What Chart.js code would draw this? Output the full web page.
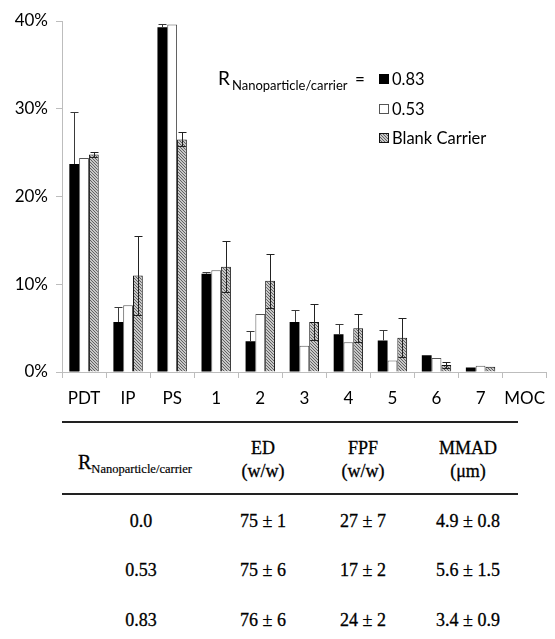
<!DOCTYPE html>
<html>
<head>
<meta charset="utf-8">
<script src="https://cdn.jsdelivr.net/npm/chart.js@4/dist/chart.umd.min.js"></script>
<style>
  html, body { margin: 0; padding: 0; background: #fff; }
  #wrap { position: relative; width: 555px; height: 639px; overflow: hidden; }
  #chartBox { position: absolute; left: 0; top: 0; width: 555px; height: 412px; }
  .t { position: absolute; font-family: "Liberation Serif", "Times New Roman", serif; color: #000; font-size: 18px; transform: translate(-50%, -50%); white-space: nowrap; text-align: center; line-height: 1.25; -webkit-text-stroke: 0.3px #000; }
  .rule { position: absolute; left: 62px; width: 456px; background: #222; }
  sub { font-size: 12.5px; vertical-align: -4px; -webkit-text-stroke: 0.2px #000; }
</style>
</head>
<body>
<div id="wrap">
  <div id="chartBox"><canvas id="c" width="555" height="412"></canvas></div>
  <div class="rule" style="top:421px;height:2px;"></div>
  <div class="rule" style="top:493px;height:2px;"></div>
  <div class="t" style="left:135px;top:464px;font-size:20px;">R<sub>Nanoparticle/carrier</sub></div>
  <div class="t" style="left:263px;top:459px;">ED<br>(w/w)</div>
  <div class="t" style="left:363px;top:459px;">FPF<br>(w/w)</div>
  <div class="t" style="left:468px;top:459px;">MMAD<br>(μm)</div>
  <div class="t" style="left:141px;top:521px;">0.0</div>
  <div class="t" style="left:263px;top:521px;">75 ± 1</div>
  <div class="t" style="left:363px;top:521px;">27 ± 7</div>
  <div class="t" style="left:468px;top:521px;">4.9 ± 0.8</div>
  <div class="t" style="left:141px;top:570px;">0.53</div>
  <div class="t" style="left:263px;top:570px;">75 ± 6</div>
  <div class="t" style="left:363px;top:570px;">17 ± 2</div>
  <div class="t" style="left:468px;top:570px;">5.6 ± 1.5</div>
  <div class="t" style="left:141px;top:620px;">0.83</div>
  <div class="t" style="left:263px;top:620px;">76 ± 6</div>
  <div class="t" style="left:363px;top:620px;">24 ± 2</div>
  <div class="t" style="left:468px;top:620px;">3.4 ± 0.9</div>
</div>
<script>
const categories = ['PDT', 'IP', 'PS', '1', '2', '3', '4', '5', '6', '7', 'MOC'];
const r083 = [23.7, 5.7, 39.3, 11.2, 3.5, 5.7, 4.3, 3.6, 1.9, 0.5, 0];
const r083Err = [5.9, 1.7, 0.4, 0.2, 1.2, 1.4, 1.2, 1.2, 0, 0, 0];
const r053 = [24.4, 7.6, 39.6, 11.6, 6.6, 3.0, 3.4, 1.3, 1.6, 0.7, 0];
const blank = [24.8, 11.0, 26.5, 12.0, 10.4, 5.7, 5.0, 3.9, 0.8, 0.6, 0];
const blankErr = [0.3, 4.5, 0.8, 2.9, 3.1, 2.1, 1.6, 2.2, 0.3, 0, 0];
const yTicks = [0, 10, 20, 30, 40];
const seriesLabels = ['0.83', '0.53', 'Blank Carrier'];

function makeHatch() {
  const p = document.createElement('canvas');
  p.width = 3; p.height = 3;
  const g = p.getContext('2d');
  g.fillStyle = '#f4f4f4';
  g.fillRect(0, 0, 3, 3);
  g.strokeStyle = '#5a5a5a';
  g.lineWidth = 1.1;
  g.beginPath();
  g.moveTo(-1, -1); g.lineTo(4, 4);
  g.moveTo(-1, 2); g.lineTo(1, 4);
  g.moveTo(2, -1); g.lineTo(4, 1);
  g.stroke();
  return document.getElementById('c').getContext('2d').createPattern(p, 'repeat');
}
const hatch = makeHatch();

const errorBars = {
  id: 'errorBars',
  afterDatasetsDraw(chart) {
    const ctx = chart.ctx;
    const ys = chart.scales.y;
    chart.data.datasets.forEach((ds, di) => {
      if (!ds.err) return;
      const meta = chart.getDatasetMeta(di);
      meta.data.forEach((bar, i) => {
        const e = ds.err[i];
        if (!e) return;
        const v = ds.data[i];
        const yt = Math.round(ys.getPixelForValue(v + e)) + 0.5;
        const yb = Math.round(ys.getPixelForValue(Math.max(0, v - e))) + 0.5;
        const x = Math.round(bar.x) + 0.5;
        ctx.save();
        ctx.strokeStyle = ds.errColor || '#3a3a3a';
        ctx.lineWidth = 1;
        ctx.beginPath();
        ctx.moveTo(x, ds.errDown ? yb : bar.y); ctx.lineTo(x, yt);
        ctx.moveTo(x - 4, yt); ctx.lineTo(x + 4, yt);
        if (ds.errDown) { ctx.moveTo(bar.x - bar.width / 2 + 1, yb); ctx.lineTo(bar.x + bar.width / 2 - 1, yb); }
        ctx.stroke();
        ctx.restore();
      });
    });
  }
};

const legendDraw = {
  id: 'legendDraw',
  afterDraw(chart) {
    const ctx = chart.ctx;
    ctx.save();
    ctx.fillStyle = '#000';
    ctx.textBaseline = 'alphabetic';
    ctx.font = '19px Lato';
    ctx.fillText('R', 218, 85);
    ctx.font = '13px Lato';
    ctx.fillText('Nanoparticle/carrier', 232, 90);
    ctx.font = '17px Lato';
    ctx.fillText('=', 355, 85);
    const ys0 = [79, 109, 138];
    chart.data.datasets.forEach((ds, i) => {
      const y = ys0[i];
      ctx.fillStyle = ds.backgroundColor;
      ctx.fillRect(379, y - 5, 10, 10);
      if (ds.borderWidth) {
        ctx.strokeStyle = ds.borderColor;
        ctx.lineWidth = 1;
        ctx.strokeRect(379.5, y - 4.5, 9, 9);
      }
      ctx.fillStyle = '#000';
      ctx.font = '16.5px Lato';
      ctx.textBaseline = 'middle';
      ctx.fillText(ds.label, 392, y + 1);
    });
    ctx.restore();
  }
};

new Chart(document.getElementById('c'), {
  type: 'bar',
  data: {
    labels: categories,
    datasets: [
      { label: seriesLabels[0], data: r083, err: r083Err, backgroundColor: '#000', borderWidth: 0 },
      { label: seriesLabels[1], data: r053, backgroundColor: '#fff', borderColor: '#555', borderWidth: 1 },
      { label: seriesLabels[2], data: blank, err: blankErr, errDown: true, errColor: '#222', backgroundColor: hatch, borderColor: '#111', borderWidth: 1 }
    ]
  },
  options: {
    responsive: false,
    animation: false,
    events: [],
    layout: { padding: { top: 21, right: 0, left: 0, bottom: 0 } },
    datasets: { bar: { barPercentage: 1, categoryPercentage: 0.667 } },
    plugins: { legend: { display: false }, tooltip: { enabled: false } },
    scales: {
      x: {
        offset: true,
        grid: { offset: true, drawOnChartArea: false, drawTicks: true, tickLength: 6, color: '#bdbdbd' },
        border: { color: '#bdbdbd' },
        ticks: { color: '#000', font: { family: 'Lato', size: 17 }, padding: 10, maxRotation: 0, autoSkip: false },
        afterFit(s) { s.height = 40; }
      },
      y: {
        min: 0, max: 40,
        afterBuildTicks(s) { s.ticks = yTicks.map(v => ({ value: v })); },
        grid: { drawOnChartArea: false, drawTicks: true, tickLength: 6, color: '#bdbdbd' },
        border: { color: '#bdbdbd' },
        ticks: { color: '#000', font: { family: 'Lato', size: 17 }, padding: 8, callback: v => v + '%' },
        afterFit(s) { s.width = 62; }
      }
    }
  },
  plugins: [errorBars, legendDraw]
});
</script>
</body>
</html>
